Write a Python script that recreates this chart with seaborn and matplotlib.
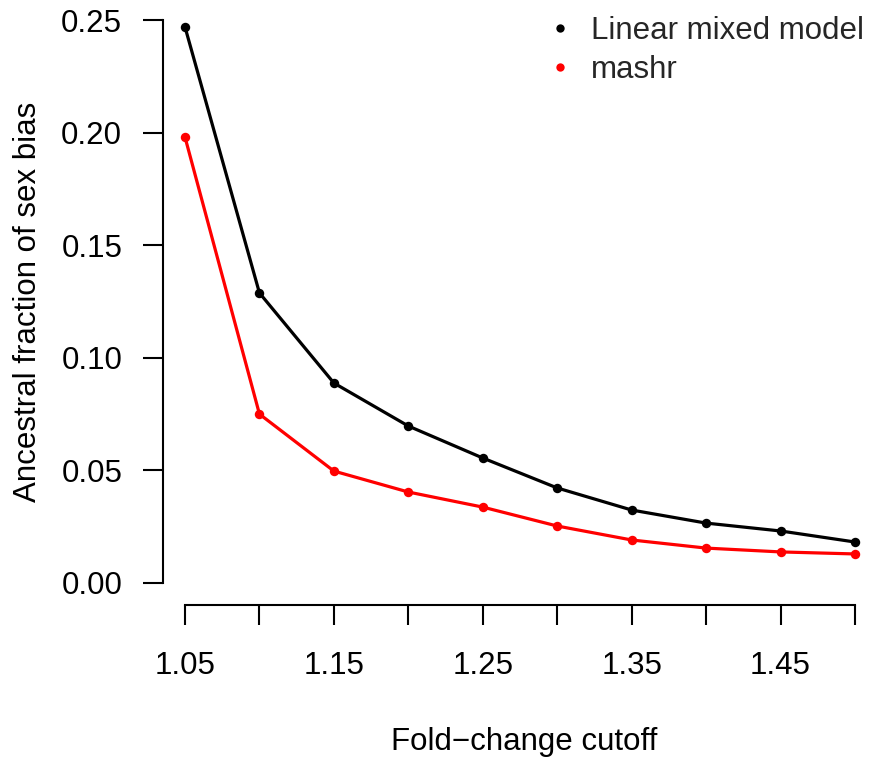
import numpy as np
import pandas as pd
import matplotlib
matplotlib.use("Agg")
import matplotlib.pyplot as plt
from matplotlib.lines import Line2D
import seaborn as sns

cutoffs = [1.05, 1.10, 1.15, 1.20, 1.25, 1.30, 1.35, 1.40, 1.45, 1.50]
lmm_values = [0.2469, 0.1288, 0.0888, 0.0697, 0.0555, 0.0422, 0.0324, 0.0266, 0.0231, 0.0182]
mashr_values = [0.1980, 0.0750, 0.0497, 0.0404, 0.0337, 0.0253, 0.0191, 0.0155, 0.0138, 0.0129]
series_names = ["Linear mixed model", "mashr"]
series_colors = ["black", "red"]
x_tick_labels = ["1.05", "", "1.15", "", "1.25", "", "1.35", "", "1.45", ""]
y_ticks = [0.00, 0.05, 0.10, 0.15, 0.20, 0.25]
y_tick_labels = ["0.00", "0.05", "0.10", "0.15", "0.20", "0.25"]

df = pd.DataFrame({
    "cutoff": cutoffs * 2,
    "value": lmm_values + mashr_values,
    "method": [series_names[0]] * len(cutoffs) + [series_names[1]] * len(cutoffs),
})

sns.set_style("white")
plt.rcParams['font.family'] = ['Liberation Sans', 'DejaVu Sans']
plt.rcParams['axes.unicode_minus'] = True

FS = 22.5
W, H = 869, 759
fig = plt.figure(figsize=(W / 100, H / 100), dpi=100)
ax = fig.add_axes([163 / W, (H - 605) / H, (869 - 163) / W, 600 / H])

sns.lineplot(data=df, x="cutoff", y="value", hue="method",
             palette=dict(zip(series_names, series_colors)),
             marker="o", markersize=6.8, markeredgewidth=0, linewidth=2.3,
             legend=False, ax=ax)

ppu_x = 670 / 0.45
ppu_y = 563 / 0.25
ax.set_xlim(1.05 - 22 / ppu_x, 1.50 + 14 / ppu_x)
ax.set_ylim(0 - 22 / ppu_y, 0.25 + 15 / ppu_y)

for s in ["top", "right"]:
    ax.spines[s].set_visible(False)
ax.spines["left"].set_bounds(0, 0.25)
ax.spines["bottom"].set_bounds(1.05, 1.50)
for s in ["left", "bottom"]:
    ax.spines[s].set_linewidth(1.5)
    ax.spines[s].set_color("black")

ax.set_xticks(cutoffs)
ax.set_xticklabels(x_tick_labels)
ax.set_yticks(y_ticks)
ax.set_yticklabels(y_tick_labels)
ax.tick_params(axis="both", which="major", direction="out", length=14.4, width=1.5,
               color="black", labelsize=FS, labelcolor="black", left=True, bottom=True)
ax.tick_params(axis="y", pad=15)
ax.tick_params(axis="x", pad=19)

ax.set_xlabel("Fold\u2212change cutoff", fontsize=FS, color="black")
ax.set_ylabel("Ancestral fraction of sex bias", fontsize=FS, color="black")
ax.xaxis.label.set_va("center")
ax.yaxis.label.set_va("center")
ax.xaxis.set_label_coords((524 - 163) / 706, (605 - 742) / 600)
ax.yaxis.set_label_coords((28 - 163) / 706, (605 - 302) / 600)

handles = [Line2D([], [], marker="o", linestyle="", color=c, markersize=6, markeredgewidth=0)
           for c in series_colors]
ax.legend(handles, series_names, loc="upper left", frameon=False, fontsize=FS,
          bbox_to_anchor=((544 - 163) / 706, (605 - 16) / 600),
          borderaxespad=0, borderpad=0, handlelength=1.0, handletextpad=0.5,
          labelspacing=0.3)

fig.savefig("out.png", dpi=100)
